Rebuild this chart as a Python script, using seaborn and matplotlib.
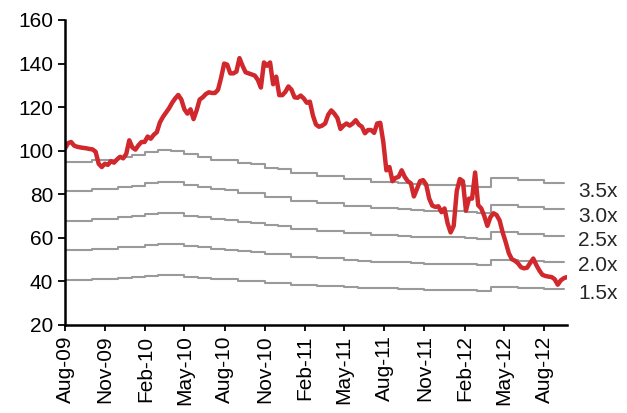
import matplotlib
matplotlib.use("Agg")
import matplotlib.pyplot as plt
import matplotlib.dates as mdates
import numpy as np
import pandas as pd
import seaborn as sns

# weekly share price readings, starting 1 Aug 2009
price_start = "2009-08-01"
price = [
    101, 103.5, 104, 102.3, 101.8, 101.5, 101.3, 101.1, 100.8, 100.6,
    99.5, 94, 92.5, 94, 93.5, 95.2, 94.5, 96, 97.2, 96.5,
    98.5, 104.8, 101.5, 100.5, 102.5, 104, 104, 106.5, 105.5, 107.3,
    108.5, 113, 115.5, 117.5, 119.5, 122, 124, 125.6, 123.5, 119,
    117, 119, 114.5, 118.5, 123.5, 124.5, 126, 126.8, 126.5, 126.5,
    128, 133.5, 140, 139.5, 135.5, 135.5, 136.3, 142.5, 139, 136,
    135.5, 135, 134.5, 132.5, 129, 140.5, 139, 140.5, 130.5, 134,
    125.5, 125.5, 127, 129.5, 128, 124.5, 124.3, 125.3, 124, 122,
    122.5, 116.2, 112, 111, 111.5, 112.5, 116.5, 118.5, 117, 115,
    110, 111.5, 112.5, 111.5, 112.5, 114, 112, 111, 108, 109.5,
    109.5, 108.2, 112.5, 112.8, 104, 91, 92.5, 86, 87.5, 88,
    91, 88, 86, 85, 79, 82.5, 86, 86.5, 84.5, 78,
    74.8, 74.2, 74.5, 71.8, 73.5, 66.7, 62.5, 65.5, 81.5, 87,
    86, 72.5, 78, 78, 90, 75, 73.5, 70, 65.5, 69.5,
    71.3, 70.5, 68, 62.5, 58, 53, 50.2, 49.5, 48.3, 46.5,
    46, 46.3, 48.5, 50.5, 47.5, 45, 43, 42.5, 42.2, 42,
    41, 38.5, 40.5, 41.5, 42,
]

# monthly book value per share, Aug 2009 - Sep 2012
bv_start = "2009-08-01"
book_value = [
    27.1, 27.1, 27.4, 27.4, 27.8, 28.0, 28.35, 28.6, 28.5, 28.1,
    27.8, 27.4, 27.3, 26.9, 26.8, 26.3, 26.2, 25.7, 25.6, 25.3,
    25.3, 24.9, 24.8, 24.5, 24.5, 24.4, 24.2, 24.1, 24.1, 24.1,
    24.0, 23.8, 25.0, 25.0, 24.7, 24.7, 24.4, 24.4,
]
bv_end = "2012-09-15"

multiples = [3.5, 3.0, 2.5, 2.0, 1.5]
multiple_labels = ["3.5x", "3.0x", "2.5x", "2.0x", "1.5x"]
label_y = [81.2, 69.7, 59.0, 47.5, 34.5]

sns.set_style("ticks")
plt.rcParams["font.family"] = ["Liberation Sans", "DejaVu Sans"]

price_df = pd.DataFrame({
    "date": pd.date_range(price_start, periods=len(price), freq="7D"),
    "price": price,
})

bv_dates = list(pd.date_range(bv_start, periods=len(book_value), freq="MS"))
bv_dates.append(pd.Timestamp(bv_end))
bv_vals = book_value + [book_value[-1]]

fig = plt.figure(figsize=(6.27, 4.13), dpi=100)
ax = fig.add_axes([0.1037, 0.2131, 0.8005, 0.7385])

for m in multiples:
    band = pd.DataFrame({"date": bv_dates, "val": np.array(bv_vals) * m})
    sns.lineplot(data=band, x="date", y="val", ax=ax, color="#9a9a9a",
                 linewidth=1.5, drawstyle="steps-post")

sns.lineplot(data=price_df, x="date", y="price", ax=ax, color="#d0282c",
             linewidth=3.2)

for lab, yv in zip(multiple_labels, label_y):
    ax.text(pd.Timestamp("2012-10-18"), yv, lab, fontsize=15, va="center",
            ha="left", clip_on=False)

ax.set_xlim(pd.Timestamp("2009-08-01"), pd.Timestamp("2012-09-22"))
ax.set_ylim(20, 160)
ax.set_yticks(np.arange(20, 161, 20))
ax.xaxis.set_major_locator(mdates.MonthLocator(bymonth=[2, 5, 8, 11]))
ax.xaxis.set_major_formatter(mdates.DateFormatter("%b-%y"))
ax.set_xlabel("")
ax.set_ylabel("")

sns.despine(ax=ax)
for s in ["left", "bottom"]:
    ax.spines[s].set_linewidth(1.8)
    ax.spines[s].set_color("black")
ax.tick_params(axis="y", labelsize=15, length=5, width=1.3, colors="black")
ax.tick_params(axis="x", labelsize=15, length=4, width=1.3, colors="black",
               labelrotation=90)

fig.savefig("out.png", dpi=100)
